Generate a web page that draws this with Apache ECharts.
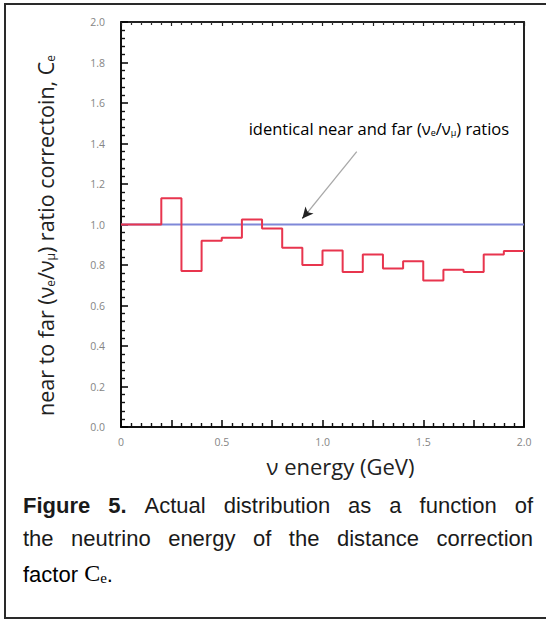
<!DOCTYPE html>
<html>
<head>
<meta charset="utf-8">
<script src="https://cdn.jsdelivr.net/npm/echarts@6/dist/echarts.min.js"></script>
<style>
html, body { margin: 0; padding: 0; background: #fff; }
#chart { width: 546px; height: 620px; }
</style>
</head>
<body>
<div id="chart"></div>
<script>
// bin edges in GeV and the correction (one value per bin)
const energyEdges = [0, 0.1, 0.2, 0.3, 0.4, 0.5, 0.6, 0.7, 0.8, 0.9, 1.0,
                     1.1, 1.2, 1.3, 1.4, 1.5, 1.6, 1.7, 1.8, 1.9, 2.0];
const ratioValues = [1.0, 1.0, 1.13, 0.77, 0.92, 0.935, 1.025, 0.98, 0.885, 0.80,
                     0.872, 0.765, 0.852, 0.783, 0.818, 0.724, 0.777, 0.765, 0.852, 0.869];
// flat reference line: identical near and far ratios
const identicalEnergy = [0, 2.0];
const identicalRatio = [1.0, 1.0];
// arrow of the annotation, in data units (tail -> head)
const arrowTail = [1.17, 1.36];
const arrowNeck = [0.93, 1.065];
const arrowHead = [0.9, 1.03];
const noteAnchor = [1.28, 1.48];

const captionLines = [
  ['Figure 5.', 'Actual distribution as a function of'],
  ['the neutrino energy of the distance correction'],
];

// histogram as a step line: point at each left edge + last right edge
const stepData = ratioValues.map((v, i) => [energyEdges[i], v]);
stepData.push([energyEdges[energyEdges.length - 1], ratioValues[ratioValues.length - 1]]);
const flatData = identicalEnergy.map((e, i) => [e, identicalRatio[i]]);

const chart = echarts.init(document.getElementById('chart'), null, { renderer: 'svg' });

const labelFont = '"Open Sans", "DejaVu Sans", sans-serif';
const tickStyle = { show: true, inside: true, length: 7, lineStyle: { color: '#000', width: 1.5 } };
const minorStyle = { show: true, splitNumber: 5, length: 4, lineStyle: { color: '#111', width: 1.4 } };

chart.setOption({
  grid: { left: 121, right: 22, top: 22, bottom: 193 },
  xAxis: [{
    type: 'value', min: 0, max: 2.0, interval: 0.25,
    axisLine: { show: true, onZero: false, lineStyle: { color: '#111', width: 2 } },
    axisTick: tickStyle,
    minorTick: minorStyle,
    splitLine: { show: false },
    axisLabel: {
      margin: 9, color: '#858585', fontSize: 10.5, fontFamily: labelFont,
      formatter: v => (Math.abs(v * 2 - Math.round(v * 2)) < 1e-6 ? (v === 0 ? '0' : v.toFixed(1)) : '')
    },
    name: 'ν energy (GeV)', nameLocation: 'middle', nameGap: 28,
    nameTextStyle: { fontSize: 22, color: '#222', fontFamily: labelFont, padding: [0, 0, 0, 36] }
  }, {
    type: 'value', position: 'top', min: 0, max: 2.0, interval: 0.25,
    axisLine: { show: true, onZero: false, lineStyle: { color: '#222', width: 2 } },
    axisTick: { show: true, inside: true, length: 4, lineStyle: { color: '#222', width: 1.2 } },
    minorTick: { show: true, splitNumber: 5, length: 3, lineStyle: { color: '#333', width: 1.2 } },
    axisLabel: { show: false }, splitLine: { show: false }
  }],
  yAxis: [{
    type: 'value', min: 0, max: 2.0, interval: 0.2,
    axisLine: { show: true, onZero: false, lineStyle: { color: '#111', width: 2 } },
    axisTick: tickStyle,
    minorTick: minorStyle,
    splitLine: { show: false },
    axisLabel: { margin: 16, color: '#858585', fontSize: 10.5, fontFamily: labelFont,
                 formatter: v => v.toFixed(1) },
    name: '{t|near to far (ν}{s|e}{t|/ν}{s|μ}{t|) ratio correctoin, C}{s|e}',
    nameLocation: 'middle', nameGap: 65,
    nameTextStyle: {
      padding: [0, 22, 0, 0],
      rich: {
        t: { fontSize: 21.5, fontFamily: labelFont, color: '#222', lineHeight: 25, verticalAlign: 'bottom' },
        s: { fontSize: 12, fontFamily: labelFont, color: '#222', lineHeight: 22, verticalAlign: 'bottom' }
      }
    }
  }, {
    type: 'value', position: 'right', min: 0, max: 2.0, interval: 0.2,
    axisLine: { show: true, onZero: false, lineStyle: { color: '#222', width: 2 } },
    axisTick: { show: false }, axisLabel: { show: false }, splitLine: { show: false }
  }],
  series: [{
    name: 'identical', type: 'line', data: flatData, showSymbol: false,
    lineStyle: { color: '#7f88d8', width: 2 }, z: 2,
    markLine: {
      silent: true, symbol: ['none', 'none'], animation: false,
      lineStyle: { color: '#a8a8a8', width: 1.3, type: 'solid' },
      label: { show: false },
      data: [[{ coord: arrowTail }, { coord: arrowNeck }]]
    }
  }, {
    name: 'Ce', type: 'line', step: 'end', data: stepData, showSymbol: false,
    lineStyle: { color: '#e8354e', width: 2 }, z: 3
  }, {
    // dark arrow head at the end of the pointer
    name: 'arrow', type: 'line', data: [], z: 4,
    markLine: {
      silent: true, symbol: ['none', 'arrow'], symbolSize: [8, 11], animation: false,
      lineStyle: { color: '#222', width: 1.3, type: 'solid' },
      label: { show: false },
      data: [[{ coord: arrowNeck }, { coord: arrowHead }]]
    }
  }]
});

// annotation text, anchored to data coordinates
const notePx = chart.convertToPixel({ xAxisIndex: 0, yAxisIndex: 0 }, noteAnchor);

// justified caption: measure words and spread them across the line
const measure = document.createElement('canvas').getContext('2d');
const capFont = '"Liberation Sans", Arial, sans-serif';
const capSize = 22;
const capLeft = 23, capRight = 533;
const capY = [505, 538, 572];
const captionGraphics = [];
captionLines.forEach((parts, li) => {
  const words = [];
  parts.forEach((p, pi) => {
    const bold = li === 0 && pi === 0;
    p.split(' ').forEach(w => words.push({ w, bold }));
  });
  let total = 0;
  words.forEach(o => {
    measure.font = (o.bold ? 'bold ' : '') + capSize + 'px ' + capFont;
    o.width = measure.measureText(o.w).width;
    total += o.width;
  });
  const gap = (capRight - capLeft - total) / (words.length - 1);
  let x = capLeft;
  words.forEach(o => {
    captionGraphics.push({
      type: 'text', x: x, y: capY[li],
      style: { text: o.w, font: (o.bold ? 'bold ' : '') + capSize + 'px ' + capFont,
               fill: '#1a1a1a', textVerticalAlign: 'middle' }
    });
    x += o.width + gap;
  });
});
// last line with serif C_e
captionGraphics.push({
  type: 'text', x: capLeft, y: capY[2],
  style: {
    text: '{a|factor }{c|C}{e|e}{a|.}',
    textVerticalAlign: 'middle',
    rich: {
      a: { fontSize: capSize, fontFamily: capFont, color: '#1a1a1a', lineHeight: 26, verticalAlign: 'bottom' },
      c: { fontSize: 24, fontFamily: '"Liberation Serif", serif', color: '#1a1a1a', lineHeight: 26, verticalAlign: 'bottom' },
      e: { fontSize: 15, fontFamily: '"Liberation Serif", serif', color: '#1a1a1a', lineHeight: 22, verticalAlign: 'bottom' }
    }
  }
});

chart.setOption({
  graphic: [
    {
      type: 'rect', silent: true,
      shape: { x: 5, y: 4, width: 560, height: 614 },
      style: { fill: 'none', stroke: '#2a2a2a', lineWidth: 2 }
    },
    {
      type: 'text', x: notePx[0], y: notePx[1],
      style: {
        text: '{t|identical near and far (ν}{s|e}{t|/ν}{s|μ}{t|) ratios}',
        textAlign: 'center', textVerticalAlign: 'middle',
        rich: {
          t: { fontSize: 16.5, fontFamily: labelFont, color: '#333', lineHeight: 20, verticalAlign: 'bottom' },
          s: { fontSize: 9, fontFamily: labelFont, color: '#333', lineHeight: 16, verticalAlign: 'bottom' }
        }
      }
    }
  ].concat(captionGraphics)
});
</script>
</body>
</html>
